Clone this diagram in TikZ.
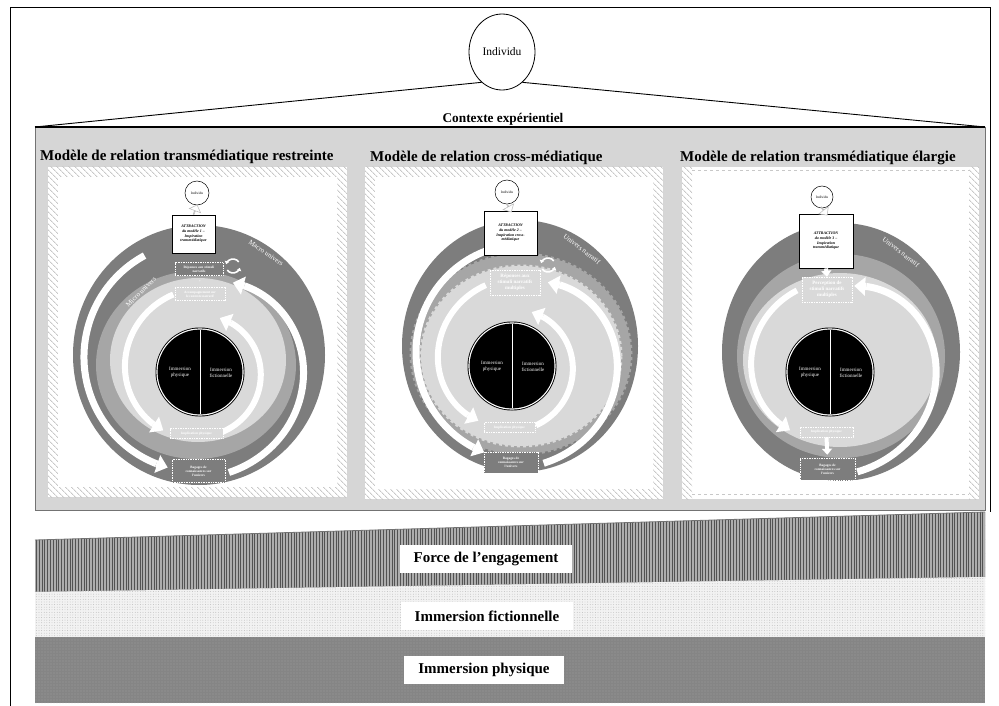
\documentclass[tikz,border=0pt]{standalone}
\usepackage{fontspec}
\setmainfont{Liberation Serif}
\usetikzlibrary{arrows.meta,patterns.meta,shapes.arrows,shapes.geometric,calc}

\definecolor{ringdark}{HTML}{7D7D7D}
\definecolor{ringmid}{HTML}{A6A6A6}
\definecolor{disclight}{HTML}{D9D9D9}
\definecolor{framebg}{HTML}{D6D6D6}
\definecolor{hatchgray}{HTML}{C8C8C8}

% white arc arrow with a radius that changes linearly with the angle
% [style]{cx}{cy}{start angle}{end angle}{start radius}{end radius}
\newcommand\spiralarrow[7][]{%
  \pgfmathsetmacro\spEnd{#5+690/(#7)}%
  \draw[spiralbody,#1] plot[domain=#4:#5, samples=60, variable=\t]
    ({#2+((#6)+((#7)-(#6))*(\t-(#4))/((#5)-(#4)))*cos(\t)},
     {#3+((#6)+((#7)-(#6))*(\t-(#4))/((#5)-(#4)))*sin(\t)});
  \draw[spiraltip,#1] plot[domain=#5:\spEnd, samples=2, variable=\t]
    ({#2+((#6)+((#7)-(#6))*(\t-(#4))/((#5)-(#4)))*cos(\t)},
     {#3+((#6)+((#7)-(#6))*(\t-(#4))/((#5)-(#4)))*sin(\t)});
}

% black disc split in two halves
\newcommand\immdisc[3]{%
  \fill[black] (#1,#2) circle (44.5);
  \fill[white] (#1,#2) circle (43.6);
  \fill[black] (#1,#2) circle (42.4);
  \draw[white, line width=1pt] (#1,#2+42.4) -- (#1,#2-42.4);
  \node[imm] (phys#3) at (#1-20,#2) {Immersion\\physique};
  \node[imm] (fict#3) at (#1+21,#2-1) {Immersion\\fictionnelle};
}

% white panel with a hatched border
\newcommand\panelframe[4]{%
  \fill[white] (#1,#2) rectangle (#3,#4);
  \fill[pattern={Lines[angle=-45,distance=4pt,line width=1pt]}, pattern color=hatchgray]
    (#1,#2) rectangle (#3,#4);
  \fill[white] (#1+10,#2-10) rectangle (#3-10,#4+10);
}

% small circular arrows
\newcommand\cycle[2]{%
  \coordinate (#1) at #2;
  \draw[cycarrow] ($(#1)+(35:7)$) arc[start angle=35, end angle=165, radius=7];
  \draw[cycarrow] ($(#1)+(215:7)$) arc[start angle=215, end angle=345, radius=7];
}

\begin{document}
\begin{tikzpicture}[x=1pt,y=1pt,
  spiralbody/.style={white, line width=7pt},
  spiraltip/.style={white, line width=7pt, -{Triangle[width=18pt,length=11pt]}},
  cycarrow/.style={white, line width=1.6pt, -{Triangle[width=4.5pt,length=3pt]}},
  stage/.style={draw=white, line width=0.5pt, dash pattern=on 1pt off 0.7pt,
    inner sep=0.5pt, align=center, text=white,
    font=\bfseries\fontsize{3.4}{4}\selectfont},
  bigstage/.style={stage, font=\bfseries\fontsize{5}{5.8}\selectfont},
  attr/.style={draw=black, fill=white, line width=0.8pt, inner sep=1pt,
    align=center, font=\bfseries\itshape\fontsize{3.9}{4.6}\selectfont},
  indiv/.style={circle, draw=black, fill=white, line width=0.5pt, inner sep=0,
    minimum size=24pt, font=\fontsize{3.6}{4}\selectfont},
  hollow/.style={single arrow, draw=gray!55, fill=white, line width=0.5pt,
    minimum height=10pt, minimum width=12pt, single arrow head extend=3pt,
    inner sep=0, sloped},
  solidarrow/.style={white, line width=4pt, -{Triangle[width=10pt,length=6pt]}},
  ringlabel/.style={text=white, font=\fontsize{7}{8}\selectfont},
  imm/.style={text=white, font=\fontsize{5}{5.8}\selectfont, align=center},
  paneltitle/.style={anchor=west, inner sep=0, font=\bfseries\fontsize{15}{18}\selectfont},
  bandlabel/.style={fill=white, minimum width=172pt, minimum height=28pt, inner sep=0,
    font=\bfseries\fontsize{15}{18}\selectfont}
]
\useasboundingbox (0,0) rectangle (999,-706);

% page frame
\draw[line width=1pt] (10,-706) -- (10,-8) -- (990,-8) -- (990,-512);

% the individual and the experiential context
\node[ellipse, draw, line width=0.8pt, minimum width=66pt, minimum height=76pt,
  inner sep=0, font=\fontsize{11.5}{13}\selectfont] (indiv) at (502,-52) {Individu};
\coordinate (ctxL) at (35,-127);
\coordinate (ctxR) at (985,-127);
\fill[framebg] (35,-127) rectangle (985,-510);
\draw[black!55, line width=0.8pt] (35,-127) -- (35,-510) -- (985,-510) -- (985,-127);
\draw[line width=0.9pt] (indiv.236) -- (ctxL);
\draw[line width=0.9pt] (indiv.304) -- (ctxR);
\draw[line width=1.5pt] (ctxL) -- (ctxR);
\node[font=\bfseries\fontsize{13.3}{16}\selectfont] (ctx) at (503,-119) {Contexte expérientiel};

% ================= restricted transmedia relation
\panelframe{48}{-167}{347}{-497}
\node[paneltitle] (title1) at (40,-157) {Modèle de relation transmédiatique restreinte};
\fill[ringdark] (199,-355) ellipse[x radius=126, y radius=130];
\fill[ringmid] (196,-365) ellipse[x radius=100, y radius=94];
\fill[disclight] (198,-360) ellipse[x radius=88, y radius=82];
\immdisc{200}{-372}{1}
\spiralarrow{199}{-358}{118}{248}{116}{114}
\spiralarrow{205}{-360}{-78}{62}{115}{84}
\spiralarrow[line width=6pt]{200}{-372}{109}{228}{82}{70}
\spiralarrow[line width=6pt]{200}{-372}{-70}{58}{64}{58}
\node[ringlabel, rotate=-35] (macro1) at (266,-253) {Macro univers};
\node[ringlabel, rotate=45] (micro1) at (141,-292) {Micro univers};
\cycle{cyc1}{(233,-266)}
\node[indiv] (ind1) at (197,-193) {Individu};
\node[attr, minimum width=43pt, minimum height=38pt] (att1) at (193.5,-234)
  {ATTRACTION\\du modèle 1 –\\Inspiration\\transmédiatique};
\path (ind1.south) -- (att1.north) node[hollow, midway] (h1) {};
\node[stage, fill=ringdark, minimum width=48pt, minimum height=13pt] (rep1) at (199,-269)
  {Réponses aux stimuli\\narratifs};
\node[text=white, font=\fontsize{4}{4}\selectfont, inner sep=0] (plus1) at (200,-281) {+};
\node[stage, fill=disclight, minimum width=50pt, minimum height=13pt] (acc1) at (200,-294)
  {Accompagnement sur\\le contexte narratif};
\node[stage, fill=disclight, minimum width=53pt, minimum height=10pt] (imp1) at (196.5,-433.5)
  {Implication physique};
\node[stage, fill=ringdark, minimum width=53pt, minimum height=23pt] (bag1) at (198.5,-471)
  {Bagages de\\connaissances sur\\l’univers};

% ================= cross-media relation
\panelframe{365}{-167}{663}{-499}
\node[paneltitle] (title2) at (370,-158) {Modèle de relation cross-médiatique};
\fill[ringdark] (520,-346) ellipse[x radius=118, y radius=126];
\fill[ringmid] (521,-354) ellipse[x radius=110, y radius=100];
\draw[ringmid, line width=3pt, dash pattern=on 3pt off 3pt] (521,-354) ellipse[x radius=110, y radius=100];
\fill[disclight] (521,-356) ellipse[x radius=100, y radius=90];
\draw[disclight, line width=3pt, dash pattern=on 3pt off 3pt] (521,-356) ellipse[x radius=100, y radius=90];
\immdisc{512}{-366}{2}
\spiralarrow{524}{-352}{108}{242}{108}{108}
\spiralarrow{524}{-352}{-80}{62}{113}{76}
\spiralarrow[line width=6pt]{512}{-366}{108}{228}{85}{66}
\spiralarrow[line width=6pt]{512}{-366}{-68}{58}{64}{58}
\node[ringlabel, rotate=-38] (narr2) at (582,-249) {Univers narratif};
\cycle{cyc2}{(548,-265)}
\node[indiv] (ind2) at (507,-192) {Individu};
\node[attr, minimum width=53pt, minimum height=44pt] (att2) at (510.5,-233)
  {ATTRACTION\\du modèle 2 –\\Inspiration cross-\\médiatique};
\path (ind2.south) -- (att2.north) node[hollow, midway] (h2) {};
\node[bigstage, fill=disclight, minimum width=50pt, minimum height=25pt] (rep2) at (515,-282.5)
  {Réponses aux\\stimuli narratifs\\multiples};
\node[stage, fill=disclight, minimum width=51pt, minimum height=10pt] (imp2) at (509.5,-427.5)
  {Implication physique};
\node[stage, fill=ringdark, minimum width=54pt, minimum height=21pt] (bag2) at (511,-462.5)
  {Bagages de\\connaissances sur\\l’univers};

% ================= extended transmedia relation
\fill[white] (682,-167) rectangle (979,-499);
\fill[pattern={Lines[angle=-45,distance=4pt,line width=1pt]}, pattern color=hatchgray]
  (682,-167) rectangle (692,-499);
\fill[pattern={Lines[angle=-45,distance=4pt,line width=1pt]}, pattern color=hatchgray]
  (969,-167) rectangle (979,-499);
\draw[hatchgray, line width=1pt, dash pattern=on 3pt off 3pt] (692,-171) -- (969,-171);
\draw[hatchgray, line width=1pt, dash pattern=on 3pt off 3pt] (692,-494) -- (969,-494);
\node[paneltitle] (title3) at (680,-158) {Modèle de relation transmédiatique élargie};
\fill[ringdark] (841,-352) ellipse[x radius=119, y radius=129];
\fill[ringmid] (841,-356) ellipse[x radius=104, y radius=102];
\fill[disclight] (840,-360) ellipse[x radius=97, y radius=87];
\immdisc{830}{-372}{3}
\spiralarrow[line width=6pt]{830}{-372}{112}{226}{88}{72}
\spiralarrow{841}{-356}{-82}{70}{117}{74}
\node[ringlabel, rotate=-38] (narr3) at (901,-252) {Univers narratif};
\node[indiv, minimum size=22pt] (ind3) at (822,-197) {Individu};
\node[attr, minimum width=54pt, minimum height=54pt] (att3) at (826,-241)
  {ATTRACTION\\du modèle 3 –\\Inspiration\\transmédiatique};
\path (ind3.south) -- (att3.north) node[hollow, midway] (h3) {};
\node[bigstage, fill=disclight, minimum width=50pt, minimum height=25pt] (per3) at (827,-289.5)
  {Perception de\\stimuli narratifs\\multiples};
\node[stage, fill=disclight, minimum width=53pt, minimum height=10pt] (imp3) at (826.5,-432)
  {Implication physique};
\node[stage, fill=ringdark, minimum width=55pt, minimum height=22pt] (bag3) at (827.5,-469)
  {Bagages de\\connaissances sur\\l’univers};
\draw[solidarrow] (att3.south) -- (per3.north);
\draw[solidarrow, shorten >=3pt] (imp3.south) -- (bag3.north);

% ================= bands below
\fill[black!32] (35,-540) -- (985,-512) -- (985,-577) -- (35,-592) -- cycle;
\fill[pattern={Lines[angle=90,distance=2.8pt,line width=1pt]}, pattern color=black!68]
  (35,-540) -- (985,-512) -- (985,-577) -- (35,-592) -- cycle;
\draw[black!55, line width=0.8pt] (35,-540) -- (985,-512);
\draw[black!40, line width=0.6pt] (35,-592) -- (985,-577);
\fill[black!5] (35,-592) -- (985,-577) -- (985,-637) -- (35,-637) -- cycle;
\fill[pattern={Dots[radius=0.45pt,distance=2.6pt]}, pattern color=black!28]
  (35,-592) -- (985,-577) -- (985,-637) -- (35,-637) -- cycle;
\fill[black!48] (35,-637) rectangle (985,-703);
\fill[pattern={Dots[radius=0.45pt,distance=3pt]}, pattern color=black!22]
  (35,-637) rectangle (985,-703);
\node[bandlabel] (force) at (486,-559) {Force de l’engagement};
\node[bandlabel] (fict) at (487,-616) {Immersion fictionnelle};
\node[bandlabel, minimum width=160pt] (phys) at (484,-670) {Immersion physique};
\end{tikzpicture}
\end{document}
